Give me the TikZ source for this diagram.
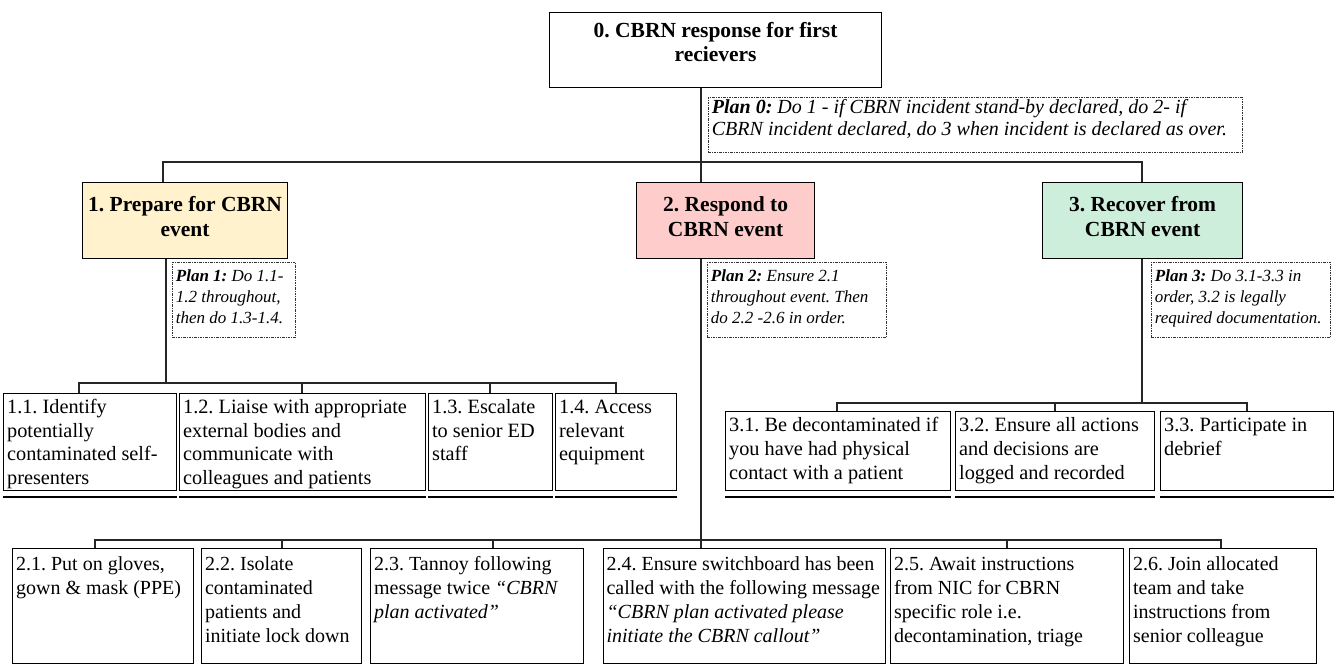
\documentclass[tikz,border=0pt]{standalone}
\usepackage{fontspec}
\setmainfont{Liberation Serif}
\usetikzlibrary{calc}
\definecolor{prep}{RGB}{255,242,204}
\definecolor{resp}{RGB}{255,204,204}
\definecolor{recov}{RGB}{206,238,220}
\frenchspacing
\newcommand\li[1]{\mbox{#1}}
% #1 style, #2 name, #3 x1, #4 y1, #5 x2, #6 y2, #7 first baseline, #8 text
\newcommand\tb[8]{%
  \pgfmathsetmacro\tbw{#5-#3-7}%
  \pgfmathsetmacro\tbh{#6-#4}%
  \node[#1] (#2) at (#3,-#4) {\parbox[t][\tbh pt][t]{\tbw pt}{\frenchspacing\raggedright\rule{0pt}{#7pt}#8}};}
\tikzset{
  box/.style={draw=black, line width=1.2pt, rectangle, inner xsep=3.5pt, inner ysep=0pt, anchor=north west},
  planbox/.style={draw=black!80, line width=0.8pt, dash pattern=on 2.5pt off 1pt on 1pt off 1pt, rectangle, inner xsep=3.5pt, inner ysep=0pt, anchor=north west},
  wire/.style={draw=black!85, line width=1.2pt},
  stopline/.style={draw=black, line width=1.8pt},
  title0/.style={box, font=\fontsize{21.5}{23.5}\selectfont\bfseries},
  title/.style={box, font=\fontsize{21.5}{25}\selectfont\bfseries},
  leaf/.style={box, font=\fontsize{20.3}{23.5}\selectfont},
  leafc/.style={box, font=\fontsize{20.3}{24}\selectfont},
  leafb/.style={box, font=\fontsize{20}{24}\selectfont},
  plan0s/.style={planbox, font=\fontsize{20}{22}\selectfont\itshape},
  plan/.style={planbox, font=\fontsize{17}{21}\selectfont\itshape},
}
\begin{document}
\begin{tikzpicture}[x=1pt,y=1pt]
\useasboundingbox[fill=white] (0,0) rectangle (1334,-664);
% level 0 and 1
\tb{title0}{b0}{549}{12}{881}{87}{25}{\centering 0. CBRN response for first\\recievers}
\tb{plan0s}{p0}{708}{97}{1242}{152}{16}{\li{\textbf{Plan 0:} Do 1 - if CBRN incident stand-by declared, do 2- if}\\\li{CBRN incident declared, do 3 when incident is declared as over.}}
\tb{title, fill=prep}{b1}{82}{182}{287}{258}{29}{\centering 1. Prepare for CBRN\\event}
\tb{title, fill=resp}{b2}{636}{182}{814}{258}{29}{\centering 2. Respond to\\CBRN event}
\tb{title, fill=recov}{b3}{1042}{182}{1242}{258}{29}{\centering 3. Recover from\\CBRN event}
\tb{plan}{p1}{172}{262}{295}{337}{19}{\li{\textbf{Plan 1:} Do 1.1-}\\\li{1.2 throughout,}\\\li{then do 1.3-1.4.}}
\tb{plan}{p2}{707}{262}{886}{337}{19}{\li{\textbf{Plan 2:} Ensure 2.1}\\\li{throughout event. Then}\\\li{do 2.2 -2.6 in order.}}
\tb{plan}{p3}{1151}{262}{1330}{337}{19}{\li{\textbf{Plan 3:} Do 3.1-3.3 in}\\\li{order, 3.2 is legally}\\\li{required documentation.}}
% row 1
\tb{leaf}{b11}{3}{393}{176}{490}{20}{\li{1.1. Identify}\\\li{potentially}\\\li{contaminated self-}\\\li{presenters}}
\tb{leaf}{b12}{179}{393}{425}{490}{20}{\li{1.2. Liaise with appropriate}\\\li{external bodies and}\\\li{communicate with}\\\li{colleagues and patients}}
\tb{leaf}{b13}{428}{393}{552}{490}{20}{\li{1.3. Escalate}\\\li{to senior ED}\\\li{staff}}
\tb{leaf}{b14}{555}{393}{676}{490}{20}{\li{1.4. Access}\\\li{relevant}\\\li{equipment}}
% row 3
\tb{leafc}{b31}{725}{411}{950}{490}{19.5}{\li{3.1. Be decontaminated if}\\\li{you have had physical}\\\li{contact with a patient}}
\tb{leafc}{b32}{955}{411}{1154}{490}{19.5}{\li{3.2. Ensure all actions}\\\li{and decisions are}\\\li{logged and recorded}}
\tb{leafc}{b33}{1160}{411}{1333}{490}{19.5}{\li{3.3. Participate in}\\\li{debrief}}
% row 2
\tb{leafb}{b21}{12}{548}{193}{663}{22}{\li{2.1. Put on gloves,}\\\li{gown \& mask (PPE)}}
\tb{leafb}{b22}{201}{548}{361}{663}{22}{\li{2.2. Isolate}\\\li{contaminated}\\\li{patients and}\\\li{initiate lock down}}
\tb{leafb}{b23}{370}{548}{583}{663}{22}{\li{2.3. Tannoy following}\\\li{message twice \textit{“CBRN}}\\\li{\textit{plan activated”}}}
\tb{leafb, inner xsep=3pt}{b24}{603}{548}{886}{663}{22}{\li{2.4. Ensure switchboard has been}\\\li{called with the following message}\\\li{\textit{“CBRN plan activated please}}\\\li{\textit{initiate the CBRN callout”}}}
\tb{leafb}{b25}{890}{548}{1123}{663}{22}{\li{2.5. Await instructions}\\\li{from NIC for CBRN}\\\li{specific role i.e.}\\\li{decontamination, triage}}
\tb{leafb}{b26}{1129}{548}{1316}{663}{22}{\li{2.6. Join allocated}\\\li{team and take}\\\li{instructions from}\\\li{senior colleague}}
% top connectors
\coordinate (j0) at (701,-162);
\coordinate (j1) at (163,-162);
\coordinate (j3) at (1142,-162);
\draw[wire] (j1 |- b1.north) -- (j1) -- (j3) -- (j3 |- b3.north);
\draw[wire] (j0 |- b0.south) -- (j0 |- b2.north);
% row 1 connectors
\coordinate (r1) at (166,-383);
\coordinate (c11) at (79,-383);
\coordinate (c12) at (302,-383);
\coordinate (c13) at (490,-383);
\coordinate (c14) at (616,-383);
\draw[wire] (r1 |- b1.south) -- (r1);
\draw[wire] (c11 |- b11.north) -- (c11) -- (c14) -- (c14 |- b14.north);
\draw[wire] (c12) -- (c12 |- b12.north);
\draw[wire] (c13) -- (c13 |- b13.north);
% row 3 connectors
\coordinate (r3) at (1142,-403);
\coordinate (c31) at (837,-403);
\coordinate (c32) at (1055,-403);
\coordinate (c33) at (1247,-403);
\draw[wire] (r3 |- b3.south) -- (r3);
\draw[wire] (c31 |- b31.north) -- (c31) -- (c33) -- (c33 |- b33.north);
\draw[wire] (c32) -- (c32 |- b32.north);
% row 2 connectors
\coordinate (r2) at (701,-540);
\coordinate (c21) at (95,-540);
\coordinate (c22) at (282,-540);
\coordinate (c23) at (493,-540);
\coordinate (c25) at (1007,-540);
\coordinate (c26) at (1221,-540);
\draw[wire] (r2 |- b2.south) -- (r2 |- b24.north);
\draw[wire] (c21 |- b21.north) -- (c21) -- (c26) -- (c26 |- b26.north);
\draw[wire] (c22) -- (c22 |- b22.north);
\draw[wire] (c23) -- (c23 |- b23.north);
\draw[wire] (c25) -- (c25 |- b25.north);
% stop lines under leaf tasks
\foreach \n in {b11,b12,b13,b14,b31,b32,b33}
  \draw[stopline] ([yshift=-6pt]\n.south west) -- ([yshift=-6pt]\n.south east);
\end{tikzpicture}
\end{document}
